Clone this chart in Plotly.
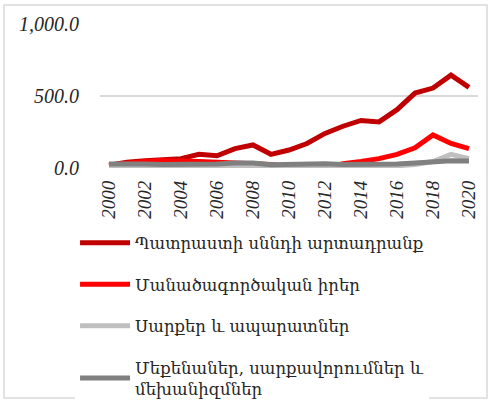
import plotly.graph_objects as go

years = list(range(2000, 2021))

# Պատրաստի սննդի արտադրանք
food = [20, 40, 50, 60, 65, 95, 85, 135, 160, 95, 125, 170, 240, 290, 330, 320, 405, 520, 555, 645, 560]
# Մանածագործական իրեր
textile = [20, 35, 45, 50, 50, 45, 40, 35, 30, 25, 10, -5, 0, 30, 45, 65, 95, 140, 230, 170, 135]
# Սարքեր և ապարատներ
devices = [10, 10, 8, 8, 8, 10, 10, 12, 12, 8, 8, 10, 10, 10, 12, 10, 15, 25, 45, 95, 65]
# Մեքենաներ, սարքավորումներ և մեխանիզմներ
machines = [28, 30, 28, 25, 25, 28, 28, 35, 35, 22, 25, 25, 30, 25, 25, 20, 28, 35, 45, 50, 48]

names = [
    "Պատրաստի սննդի արտադրանք",
    "Մանածագործական իրեր",
    "Սարքեր և ապարատներ",
    "Մեքենաներ, սարքավորումներ և<br>մեխանիզմներ",
]
colors = ["#C00000", "#FF0000", "#BFBFBF", "#808080"]

fig = go.Figure()
for i, (name, vals, col) in enumerate(zip(names, [food, textile, devices, machines], colors)):
    fig.add_trace(
        go.Scatter(
            x=years,
            y=vals,
            name=name,
            mode="lines",
            line=dict(color=col, width=5),
            legendgroup=str(i),
        )
    )

serif = "Liberation Serif"
fig.update_layout(
    width=490,
    height=401,
    margin=dict(l=100, r=12, t=24, b=233, autoexpand=False),
    plot_bgcolor="white",
    paper_bgcolor="white",
    showlegend=True,
    legend=dict(
        x=-0.066,
        y=-0.40,
        xanchor="left",
        yanchor="top",
        font=dict(family="DejaVu Serif", size=16.5, color="#262626"),
        tracegroupgap=17,
        itemwidth=50,
    ),
)
fig.update_xaxes(
    range=[1999.5, 2020.5],
    tickmode="array",
    tickvals=years[::2],
    ticktext=[str(y) for y in years[::2]],
    tickangle=-90,
    tickfont=dict(family=serif, size=19, color="#262626", style="italic"),
    showgrid=False,
    showline=False,
    zeroline=False,
    ticks="",
    ticklabelstandoff=8,
    automargin=False,
)
fig.update_yaxes(
    range=[0, 1000],
    tickvals=[0, 500, 1000],
    tickformat=",.1f",
    tickfont=dict(family=serif, size=20, color="#262626", style="italic"),
    showgrid=True,
    gridcolor="#D9D9D9",
    gridwidth=1.5,
    zeroline=False,
    showline=False,
    ticks="",
    ticklabelstandoff=20,
    automargin=False,
)
# outer chart frame
fig.add_shape(
    type="rect",
    xref="paper",
    yref="paper",
    x0=-0.254,
    x1=1.0238,
    y0=-1.597,
    y1=1.132,
    line=dict(color="#D9D9D9", width=1.5),
    layer="above",
)

fig.write_html(
    "out.html",
    config={"displayModeBar": False},
    post_script="document.body.style.margin='0';",
)
